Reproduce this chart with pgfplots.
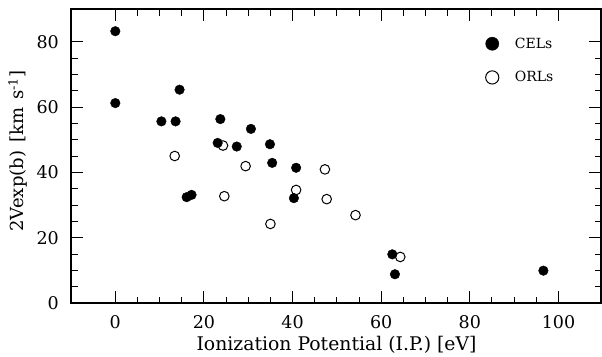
\documentclass[border=0pt]{standalone}
\usepackage{fontspec}
\setmainfont{DejaVu Serif}
\usepackage{pgfplots}
\pgfplotsset{compat=1.18}
\begin{document}
\begin{tikzpicture}
\useasboundingbox (0,0) rectangle (602pt,356pt);
\begin{axis}[
  at={(71pt,53pt)}, anchor=south west,
  scale only axis, width=530pt, height=294pt,
  xmin=-10, xmax=109.6, ymin=0, ymax=90,
  xtick={0,20,40,60,80,100}, ytick={0,20,40,60,80},
  minor x tick num=3, minor y tick num=3,
  tick align=inside,
  major tick length=12pt, minor tick length=6.5pt,
  every tick/.style={black, line width=1pt},
  axis line style={line width=1.2pt},
  /pgf/number format/assume math mode=true,
  ticklabel style={font=\fontsize{17.5}{20}\selectfont, inner sep=0pt},
  xticklabel style={anchor=north, yshift=-12pt},
  yticklabel style={anchor=east, xshift=-12pt},
  xlabel={Ionization Potential (I.P.) [eV]},
  ylabel={2Vexp(b)\hspace{0.45em}[km\hspace{0.45em}s\textsuperscript{-1}]},
  xlabel style={font=\fontsize{18.8}{22}\selectfont, at={(axis description cs:0.501,-0.160)}, anchor=base, inner sep=0pt},
  ylabel style={font=\fontsize{18}{21}\selectfont, at={(axis description cs:-0.100,0.517)}, anchor=center, inner sep=0pt},
  legend style={draw=none, fill=none, at={(0.782,0.905)}, anchor=north west,
    font=\fontsize{14}{16}\selectfont, row sep=20.5pt, inner sep=0pt,
    nodes={inner sep=0pt, anchor=west}, column sep=16pt},
  legend cell align=left,
  legend reversed,
  legend image code/.code={\draw[#1, mark size=6.6pt] plot coordinates {(0pt,0pt)};},
]
\addplot[only marks, mark=o, mark size=4.8pt, mark options={line width=1pt, fill=white}, black]
  table {
x y
13.4 45.0
24.3 48.2
29.4 41.9
47.3 40.9
24.6 32.7
35.0 24.2
40.8 34.6
47.7 31.8
54.2 26.9
64.3 14.1
};
\addlegendentry{ORLs}
\addplot[only marks, mark=*, mark size=4.8pt, black]
  table {
x y
0 83.2
0 61.2
10.4 55.6
13.6 55.6
14.5 65.3
23.7 56.3
23.1 49.0
27.4 47.9
30.6 53.3
34.9 48.6
35.4 42.9
40.8 41.4
16.1 32.4
17.2 33.1
40.3 32.1
62.5 14.9
63.1 8.8
96.6 9.9
};
\addlegendentry{CELs}
\end{axis}
\end{tikzpicture}
\end{document}
